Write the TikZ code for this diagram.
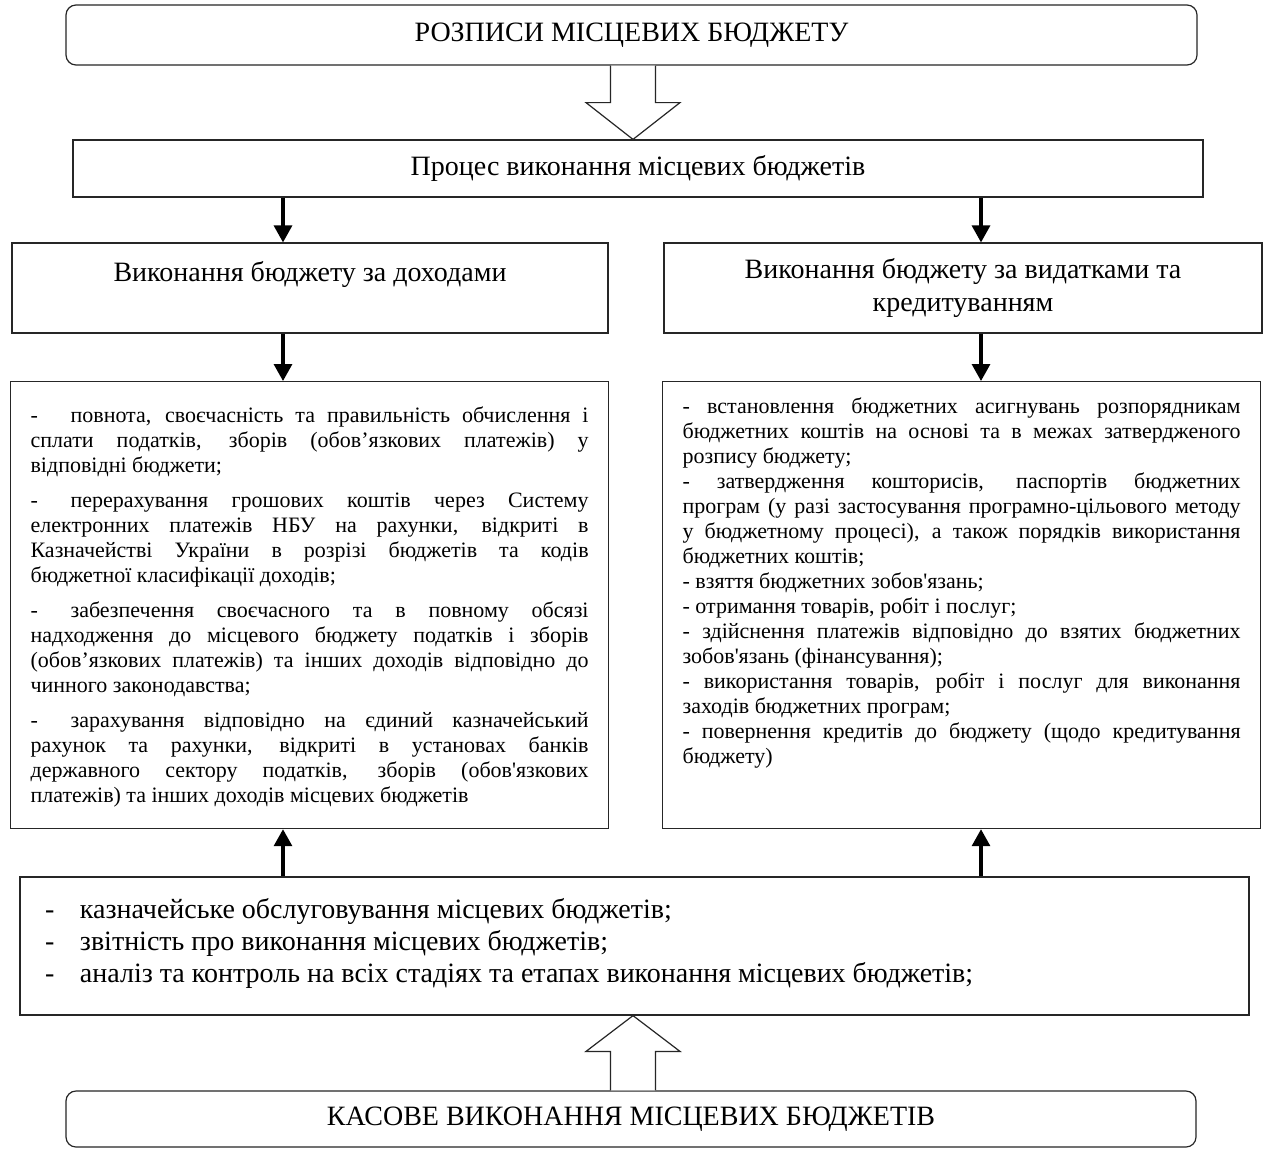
\documentclass[tikz,border=0pt]{standalone}
\usepackage{fontspec}
\setmainfont{Liberation Serif}[Ligatures=TeXOff]
\usetikzlibrary{arrows.meta,calc}
\newcommand\LLfont{\fontsize{11}{12.5}\selectfont\hyphenpenalty=10000 \exhyphenpenalty=10000 \tolerance=9999 \emergencystretch=10pt\relax}
\newcommand\dashL{\makebox[20pt][l]{-}}
\newcommand\dashB{\makebox[17.5pt][l]{-}}
\begin{document}
\begin{tikzpicture}[x=0.5pt,y=-0.5pt,
  box/.style={draw=black!85, line width=0.6pt, inner sep=0pt, align=center},
  rbox/.style={box, rounded corners=5pt},
  arr/.style={line width=1.6pt, -{Triangle[width=9pt,length=8.5pt]}},
  hollow/.style={draw=black!85, line width=0.6pt, fill=white, line join=miter},
  big/.style={font=\fontsize{14}{16.5}\selectfont}]
\useasboundingbox (0,0) rectangle (1268,1148);
\fill[white] (0,0) rectangle (1268,1148);

% top and process boxes
\node[rbox, big, minimum width=565.5pt, minimum height=30pt] (top) at (631.5,35) {РОЗПИСИ МІСЦЕВИХ БЮДЖЕТУ};
\node[box, big, minimum width=565pt, minimum height=28.5pt] (proc) at (638,168.5) {Процес виконання місцевих бюджетів};

% headings
\node[box, big, minimum width=298pt, minimum height=45pt] (lh) at (310,288)
  {\parbox{290pt}{\centering Виконання бюджету за доходами\\\mbox{}}};
\node[box, big, minimum width=299pt, minimum height=45pt] (rh) at (963,288)
  {\parbox{290pt}{\centering Виконання бюджету за видатками та\\кредитуванням}};

% list boxes
\node[box, inner xsep=10pt, anchor=north west] (ll) at (10,381)
  {\parbox[c][223.5pt][t]{279pt}{\LLfont\setlength\parskip{5pt}\vspace*{7.5pt}%
\dashL повнота, своєчасність та правильність обчислення і\linebreak
сплати податків, зборів (обов’язкових платежів) у\linebreak
відповідні бюджети;\par
\dashL перерахування грошових коштів через Систему\linebreak
електронних платежів НБУ на рахунки, відкриті в\linebreak
Казначействі України в розрізі бюджетів та кодів\linebreak
бюджетної класифікації доходів;\par
\dashL забезпечення своєчасного та в повному обсязі\linebreak
надходження до місцевого бюджету податків і зборів\linebreak
(обов’язкових платежів) та інших доходів відповідно до\linebreak
чинного законодавства;\par
\dashL зарахування відповідно на єдиний казначейський\linebreak
рахунок та рахунки, відкриті в установах банків\linebreak
державного сектору податків, зборів (обов'язкових\linebreak
платежів) та інших доходів місцевих бюджетів\par}};

\node[box, inner xsep=10pt, anchor=north west] (rl) at (662,381)
  {\parbox[c][223.5pt][t]{279pt}{\LLfont\setlength\parskip{0pt}\vspace*{8pt}%
- встановлення бюджетних асигнувань розпорядникам\linebreak
бюджетних коштів на основі та в межах затвердженого\linebreak
розпису бюджету;\par
- затвердження кошторисів, паспортів бюджетних\linebreak
програм (у разі застосування програмно-цільового методу\linebreak
у бюджетному процесі), а також порядків використання\linebreak
бюджетних коштів;\par
- взяття бюджетних зобов'язань;\par
- отримання товарів, робіт і послуг;\par
- здійснення платежів відповідно до взятих бюджетних\linebreak
зобов'язань (фінансування);\par
- використання товарів, робіт і послуг для виконання\linebreak
заходів бюджетних програм;\par
- повернення кредитів до бюджету (щодо кредитування\linebreak
бюджету)\par}};

% bottom middle box
\node[box, inner xsep=12.5pt, minimum height=69pt] (bm) at (634.5,946)
  {\parbox{589.5pt}{\raggedright\fontsize{14}{16}\selectfont
\dashB казначейське обслуговування місцевих бюджетів;\\
\dashB звітність про виконання місцевих бюджетів;\\
\dashB аналіз та контроль на всіх стадіях та етапах виконання місцевих бюджетів;\par\vspace{3pt}}};

% bottom rounded box
\node[rbox, big, minimum width=565pt, minimum height=28pt] (bot) at (631,1119) {КАСОВЕ ВИКОНАННЯ МІСЦЕВИХ БЮДЖЕТІВ};

% hollow arrows
\coordinate (ax) at (633,0);
\draw[hollow] ($(top.south -| ax)+(-22.5,0)$) -- ++(0,37) -- ++(-24.5,0) -- (proc.north -| ax)
  -- ($(top.south -| ax)+(47,37)$) -- ++(-24.5,0) -- ++(0,-37);
\draw[hollow] ($(bot.north -| ax)+(-22.5,0)$) -- ++(0,-39) -- ++(-24.5,0) -- (bm.south -| ax)
  -- ($(bot.north -| ax)+(47,-39)$) -- ++(-24.5,0) -- ++(0,39);

% solid arrows
\coordinate (cl) at (283,0);
\coordinate (cr) at (981,0);
\draw[arr] (proc.south -| cl) -- (lh.north -| cl);
\draw[arr] (proc.south -| cr) -- (rh.north -| cr);
\draw[arr] (lh.south -| cl) -- (ll.north -| cl);
\draw[arr] (rh.south -| cr) -- (rl.north -| cr);
\draw[arr] (bm.north -| cl) -- (ll.south -| cl);
\draw[arr] (bm.north -| cr) -- (rl.south -| cr);
\end{tikzpicture}
\end{document}
